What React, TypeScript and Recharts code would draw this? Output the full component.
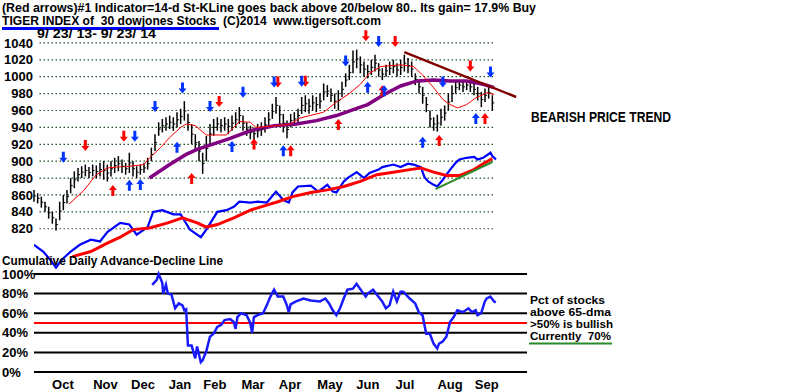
import {
  ComposedChart,
  Line,
  Scatter,
  ErrorBar,
  XAxis,
  YAxis,
  CartesianGrid,
  ReferenceLine,
} from 'recharts'

// x values are trading-day indexes from 9/23/13 (0) to 9/23/14 (~251)

const BAR_STEP = 2
const PRICE_HIGH = [
  866, 862, 858, 852, 846, 840, 832, 852, 860, 866,
  880, 888, 892, 894, 896, 893, 896, 895, 898, 900,
  896, 900, 904, 906, 902, 898, 910, 900, 894, 896,
  898, 904, 916, 932, 946, 950, 952, 954, 952, 958,
  962, 971, 956, 944, 932, 924, 910, 930, 944, 950,
  952, 950, 952, 950, 954, 958, 964, 954, 946, 942,
  940, 944, 946, 952, 958, 968, 976, 966, 956, 948,
  956, 958, 962, 976, 978, 974, 978, 976, 980, 992,
  990, 986, 980, 984, 994, 1004, 1014, 1031, 1032, 1024,
  1018, 1014, 1020, 1026, 1016, 1010, 1014, 1018, 1020, 1016,
  1020, 1026, 1022, 1018, 1004, 996, 988, 976, 960, 952,
  955, 962, 966, 980, 990, 994, 996, 994, 996, 994,
  992, 988, 982, 986, 988, 978,
]
const PRICE_LOW = [
  852, 850, 845, 840, 832, 826, 818, 830, 842, 850,
  862, 868, 876, 880, 882, 880, 882, 880, 882, 878,
  876, 882, 886, 888, 886, 884, 886, 882, 880, 884,
  886, 890, 900, 912, 930, 934, 936, 938, 936, 940,
  944, 948, 936, 920, 912, 900, 885, 900, 920, 930,
  936, 934, 936, 932, 936, 940, 944, 936, 930, 926,
  925, 928, 930, 934, 940, 950, 956, 944, 934, 927,
  940, 942, 946, 956, 958, 956, 960, 958, 962, 972,
  976, 970, 962, 960, 976, 988, 996, 1004, 1010, 1004,
  1000, 998, 1002, 1006, 1000, 996, 1000, 1002, 1004, 1000,
  1002, 1006, 1004, 1000, 990, 980, 968, 958, 940, 936,
  935, 942, 948, 960, 970, 980, 984, 982, 984, 982,
  978, 972, 964, 970, 974, 960,
]

const MA21: [number, number][] = [
  [19, 849], [27, 865], [34, 884], [40, 892], [45, 893], [52, 894], [60, 896],
  [63, 904], [69, 916], [74, 928], [80, 940], [83, 944], [88, 942], [94, 931],
  [105, 931], [112, 947], [118, 946], [121, 940], [132, 942], [140, 944],
  [145, 951], [158, 958], [165, 970], [172, 980], [178, 991], [183, 1004],
  [189, 1012], [194, 1013], [200, 1014], [207, 1012], [212, 1002], [218, 987],
  [223, 973], [227, 967], [231, 963], [236, 967], [241, 975], [247, 981], [251, 979],
]

const MA65: [number, number][] = [
  [63, 880], [74, 896], [83, 908], [89, 914], [96, 919], [107, 927], [118, 936],
  [131, 942], [143, 944], [154, 948], [165, 954], [178, 964], [182, 967],
  [191, 979], [200, 989], [209, 995], [218, 996], [227, 995], [236, 995],
  [245, 991], [251, 987],
]

// advance-decline line, in price-panel units
const AD_LINE: [number, number][] = [
  [0, 801], [5, 793], [9, 783], [12, 774], [15, 783], [20, 793], [25, 801],
  [31, 807], [36, 805], [40, 816], [47, 827], [52, 825], [56, 813], [62, 822],
  [65, 840], [70, 842], [76, 837], [80, 837], [85, 819], [91, 810], [94, 819],
  [100, 840], [105, 842], [109, 846], [112, 852], [118, 851], [122, 852],
  [127, 851], [132, 864], [136, 854], [139, 851], [141, 863], [144, 870],
  [151, 871], [155, 864], [160, 872], [163, 864], [165, 863], [169, 876],
  [171, 880], [176, 887], [180, 880], [183, 886], [188, 890], [190, 893],
  [196, 896], [200, 893], [204, 897], [207, 896], [211, 893], [213, 881],
  [215, 876], [218, 872], [220, 870], [223, 878], [227, 890], [230, 898],
  [232, 902], [236, 904], [240, 905], [242, 902], [245, 904], [249, 910],
  [250, 906], [252, 902],
]

const AD_MA: [number, number][] = [
  [21, 787], [31, 793], [40, 803], [47, 810], [54, 819], [63, 821], [73, 827],
  [81, 833], [89, 827], [94, 822], [100, 825], [109, 833], [118, 842],
  [127, 848], [133, 852], [141, 858], [151, 863], [160, 866], [169, 870],
  [178, 876], [187, 884], [196, 887], [205, 890], [211, 892], [218, 887],
  [225, 883], [232, 883], [240, 890], [245, 897], [250, 903],
]

const TREND_LINE: [number, number][] = [[202, 1029], [263, 976]]
const SUPPORT_LINE: [number, number][] = [[219, 867], [250, 899]]

const RED_DOWN: [number, number][] = [
  [28, 918], [49, 929], [101, 970], [133, 993], [148, 994], [181, 1048], [197, 1041], [238, 1012],
]
const BLUE_DOWN: [number, number][] = [
  [16, 904], [55, 929], [66, 964], [81, 986], [96, 964], [114, 981], [131, 993],
  [146, 994], [170, 1018], [188, 1041], [223, 993], [249, 1005],
]
const RED_UP: [number, number][] = [
  [43, 866], [86, 880], [120, 921], [140, 913], [166, 944], [190, 984], [221, 925], [246, 951],
]
const BLUE_UP: [number, number][] = [
  [52, 872], [58, 873], [78, 917], [108, 918], [136, 913], [182, 988], [191, 984], [212, 923], [241, 951],
]

// pct of stocks above 65-dma
const PCT_ABOVE: [number, number][] = [
  [64.5, 89], [67, 94], [68, 100], [70, 91], [70.5, 80], [72, 89], [73, 80], [75, 79],
  [77, 65], [79, 70], [81, 68], [82, 63], [83, 64], [84, 27], [86, 27], [88, 14],
  [89, 26], [91, 10], [92, 12], [94, 21], [96, 36], [98, 39], [100, 46], [102, 48],
  [104, 53], [107, 54], [109, 51], [110, 44], [111, 56], [113, 60], [116, 58],
  [118, 50], [119, 40], [120, 56], [122, 58], [125, 60], [127, 68], [129, 77],
  [131, 84], [133, 77], [136, 77], [138, 68], [139, 61], [140, 69], [143, 72],
  [147, 75], [151, 73], [156, 72], [159, 75], [161, 70], [163, 63], [165, 58],
  [167, 65], [169, 75], [171, 84], [174, 85], [176, 90], [179, 82], [181, 77],
  [182, 80], [185, 84], [187, 79], [190, 72], [192, 65], [194, 68], [196, 82],
  [198, 72], [200, 82], [201.5, 82], [203, 79], [205, 75], [208, 70], [210, 61],
  [212, 58], [214, 39], [216, 39], [218, 29], [220, 24], [221, 29], [223, 31],
  [225, 36], [227, 51], [229, 56], [231, 63], [234, 61], [237, 65], [239, 61],
  [241, 63], [242, 58], [244, 60], [246, 72], [247, 75], [249, 77], [251, 72], [252, 71],
]

const PRICE_TICKS = [820, 840, 860, 880, 900, 920, 940, 960, 980, 1000, 1020, 1040]
const PCT_TICKS = [0, 20, 40, 60, 80, 100]
const MONTHS = ['Oct', 'Nov', 'Dec', 'Jan', 'Feb', 'Mar', 'Apr', 'May', 'Jun', 'Jul', 'Aug', 'Sep']
const MONTH_POS = [15.8, 39, 59.5, 79.6, 98.7, 119.5, 139.7, 161.5, 182.2, 202.4, 227, 247]

const FONT = '"Liberation Sans", Arial, sans-serif'

function mergeSeries(series: Record<string, [number, number][]>) {
  const rows = new Map<number, Record<string, number>>()
  for (const [key, pts] of Object.entries(series)) {
    for (const [x, y] of pts) {
      const row = rows.get(x) ?? { x }
      row[key] = y
      rows.set(x, row)
    }
  }
  return [...rows.values()].sort((a, b) => a.x - b.x)
}

const upperData = mergeSeries({
  ma21: MA21,
  ma65: MA65,
  ad: AD_LINE,
  adMa: AD_MA,
  trend: TREND_LINE,
  support: SUPPORT_LINE,
})

const barData = PRICE_HIGH.map((h, i) => ({
  x: i * BAR_STEP,
  y: (h + PRICE_LOW[i]) / 2,
  err: (h - PRICE_LOW[i]) / 2,
}))

const pctData = PCT_ABOVE.map(([x, pct]) => ({ x, pct }))
const toPts = (list: [number, number][]) => list.map(([x, y]) => ({ x, y }))

function Arrow(props: any) {
  const { cx, cy, fill, up } = props
  if (cx == null || cy == null) return null
  const s = up ? -1 : 1
  const d = `M${cx - 1.5},${cy - 6 * s} L${cx + 1.5},${cy - 6 * s} L${cx + 1.5},${cy} L${cx + 4},${cy} L${cx},${cy + 5 * s} L${cx - 4},${cy} L${cx - 1.5},${cy} Z`
  return <path d={d} fill={fill} />
}

function BarTick(props: any) {
  const { cx, cy } = props
  if (cx == null || cy == null) return null
  return <line x1={cx} x2={cx + 2} y1={cy} y2={cy} stroke="#000" strokeWidth={1} />
}

function PctTick(props: any) {
  const { y, payload } = props
  return (
    <text x={2} y={y} dy={4.5} fontFamily={FONT} fontWeight={700} fontSize={13} fill="#000">
      {payload.value}%
    </text>
  )
}

function MonthTick(props: any) {
  const { x, y, payload } = props
  const i = MONTH_POS.indexOf(payload.value)
  return (
    <text x={x} y={y} dy={17} textAnchor="middle" fontFamily={FONT} fontWeight={700} fontSize={13} fill="#000">
      {MONTHS[i]}
    </text>
  )
}

const textStyle = { fontFamily: FONT, fontWeight: 700, fill: '#000', whiteSpace: 'pre' as const }

export default function App() {
  return (
    <div style={{ position: 'absolute', left: 0, top: 0, width: 800, height: 392, background: '#fff', overflow: 'hidden' }}>
      {/* lower panel: pct of stocks above 65-dma */}
      <div style={{ position: 'absolute', left: 0, top: 0 }}>
        <ComposedChart width={800} height={392} data={pctData} margin={{ top: 274, right: 273, bottom: 0, left: 0 }}>
          <CartesianGrid vertical={false} horizontalValues={PCT_TICKS} stroke="#000" strokeWidth={2} />
          <XAxis
            type="number"
            dataKey="x"
            domain={[0, 269]}
            ticks={MONTH_POS}
            interval={0}
            tick={<MonthTick />}
            axisLine={false}
            tickLine={false}
            tickSize={0}
            tickMargin={0}
            height={20}
            allowDataOverflow
          />
          <YAxis
            type="number"
            domain={[0, 100]}
            ticks={PCT_TICKS}
            interval={0}
            tick={<PctTick />}
            axisLine={false}
            tickLine={false}
            width={34}
          />
          <ReferenceLine y={50} stroke="#ff0000" strokeWidth={2} />
          <Line dataKey="pct" stroke="#1a1aff" strokeWidth={2.5} dot={false} isAnimationActive={false} />
        </ComposedChart>
      </div>

      {/* upper panel: price bars, moving averages, A/D line */}
      <div style={{ position: 'absolute', left: 0, top: 0 }}>
        <ComposedChart width={800} height={272} data={upperData} margin={{ top: 26, right: 271, bottom: 1, left: 0 }}>
          <XAxis type="number" dataKey="x" domain={[0, 270]} hide allowDataOverflow />
          <YAxis
            type="number"
            domain={[770, 1060]}
            ticks={PRICE_TICKS}
            interval={0}
            allowDataOverflow
            axisLine={false}
            tickLine={false}
            tickSize={0}
            tickMargin={1}
            width={34}
            tick={{ fill: '#000', fontSize: 13, fontWeight: 700, fontFamily: FONT }}
          />
          {/* dotted price grid stops short of the trend line */}
          {PRICE_TICKS.map((v) => (
            <ReferenceLine
              key={v}
              segment={[{ x: 3, y: v }, { x: 251, y: v }]}
              stroke="#1f4f1f"
              strokeWidth={1.2}
              strokeDasharray="1.5 2.5"
              ifOverflow="visible"
            />
          ))}
          <Line dataKey="ad" stroke="#0000ff" strokeWidth={2.2} dot={false} connectNulls isAnimationActive={false} />
          <Line dataKey="adMa" stroke="#ff0000" strokeWidth={3} dot={false} connectNulls isAnimationActive={false} />
          <Line dataKey="support" stroke="#2a8a2a" strokeWidth={2} dot={false} connectNulls isAnimationActive={false} />
          <Scatter data={barData} dataKey="y" shape={<BarTick />} isAnimationActive={false}>
            <ErrorBar dataKey="err" direction="y" width={0} stroke="#000" strokeWidth={1.5} isAnimationActive={false} />
          </Scatter>
          <Line dataKey="ma65" stroke="#800080" strokeWidth={3.5} dot={false} connectNulls isAnimationActive={false} />
          <Line dataKey="ma21" stroke="#ff0000" strokeWidth={1} dot={false} connectNulls isAnimationActive={false} />
          <Line dataKey="trend" stroke="#800000" strokeWidth={2.5} dot={false} connectNulls isAnimationActive={false} />
          <Scatter data={toPts(RED_DOWN)} dataKey="y" shape={<Arrow fill="#ff0000" />} isAnimationActive={false} />
          <Scatter data={toPts(BLUE_DOWN)} dataKey="y" shape={<Arrow fill="#0033ff" />} isAnimationActive={false} />
          <Scatter data={toPts(RED_UP)} dataKey="y" shape={<Arrow fill="#ff0000" up />} isAnimationActive={false} />
          <Scatter data={toPts(BLUE_UP)} dataKey="y" shape={<Arrow fill="#0033ff" up />} isAnimationActive={false} />
        </ComposedChart>
      </div>

      <svg width={800} height={392} style={{ position: 'absolute', left: 0, top: 0, pointerEvents: 'none' }}>
        <text x={2} y={12} fontSize={12} textLength={534} lengthAdjust="spacingAndGlyphs" style={textStyle}>
          (Red arrows)#1 Indicator=14-d St-KLine goes back above 20/below 80.. Its gain= 17.9% Buy
        </text>
        <text x={2} y={25} fontSize={12} textLength={379} lengthAdjust="spacingAndGlyphs" style={textStyle}>
          TIGER INDEX of  30 dowjones Stocks  (C)2014  www.tigersoft.com
        </text>
        <rect x={2} y={27} width={217} height={3} fill="#0000ff" />
        <text x={37} y={37.5} fontSize={12} textLength={119} lengthAdjust="spacingAndGlyphs" style={textStyle}>
          9/ 23/ 13- 9/ 23/ 14
        </text>
        <text x={531} y={122} fontSize={14} textLength={140} lengthAdjust="spacingAndGlyphs" style={textStyle}>
          BEARISH PRICE TREND
        </text>
        <text x={2} y={265} fontSize={13} textLength={221} lengthAdjust="spacingAndGlyphs" style={textStyle}>
          Cumulative Daily Advance-Decline Line
        </text>
        <text x={530} y={304} fontSize={11.5} textLength={75} lengthAdjust="spacingAndGlyphs" style={textStyle}>
          Pct of stocks
        </text>
        <text x={530} y={316} fontSize={11.5} textLength={81} lengthAdjust="spacingAndGlyphs" style={textStyle}>
          above 65-dma
        </text>
        <text x={530} y={328} fontSize={11.5} textLength={83} lengthAdjust="spacingAndGlyphs" style={textStyle}>
          {'>50% is bullish'}
        </text>
        <text x={530} y={340} fontSize={11.5} textLength={81} lengthAdjust="spacingAndGlyphs" style={textStyle}>
          Currently  70%
        </text>
        <rect x={529} y={342.5} width={83} height={2} fill="#2a8a2a" />
      </svg>
    </div>
  )
}
